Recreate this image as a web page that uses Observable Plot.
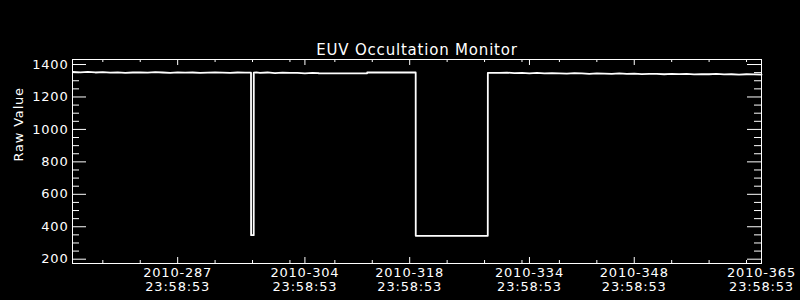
<!DOCTYPE html>
<html>
<head>
<meta charset="utf-8">
<script src="https://cdn.jsdelivr.net/npm/d3@7"></script>
<script src="https://cdn.jsdelivr.net/npm/@observablehq/plot@0.6"></script>
<style>
  html, body { margin: 0; padding: 0; background: #000; }
  #chart svg { display: block; }
</style>
</head>
<body>
<div id="chart"></div>
<script>
// ---- data (day of year 2010, raw value) ----
const days = [
  273, 274, 275, 276, 277, 278, 279, 280, 281, 282, 283, 284, 285, 286, 287, 288,
  289, 290, 291, 292, 293, 294, 295, 296, 296.8,
  296.81, 297.16, 297.17,
  297.5, 298, 299, 300, 301, 302, 303, 304, 305, 305.85,
  305.86, 312.31, 312.32, 318.8,
  318.81, 328.43, 328.44,
  329, 330, 331, 332, 333, 334, 335, 336, 337, 338, 339, 340, 341, 342, 343, 344,
  345, 346, 347, 348, 349, 350, 351, 352, 353, 354, 355, 356, 357, 358, 359, 360,
  361, 362, 363, 364, 365
];
const values = [
  1354, 1352, 1355, 1351, 1353, 1350, 1352, 1349, 1351, 1352, 1350, 1353, 1351, 1349, 1352, 1350,
  1351, 1349, 1350, 1352, 1350, 1349, 1351, 1350, 1350,
  348, 348, 1350,
  1352, 1349, 1351, 1347, 1350, 1348, 1349, 1346, 1348, 1347,
  1345, 1345, 1351, 1351,
  344, 344, 1349,
  1349, 1348, 1350, 1347, 1349, 1346, 1348, 1345, 1347, 1346, 1344, 1347, 1345, 1343, 1346, 1344,
  1342, 1345, 1343, 1344, 1341, 1343, 1342, 1340, 1343, 1341, 1342, 1339, 1341, 1340, 1342, 1339,
  1340, 1338, 1340, 1339, 1338
];

// ---- axis ticks ----
const xMajor = [287, 304, 318, 334, 348, 365];
const xMajorLabels = ["2010-287\n23:58:53", "2010-304\n23:58:53", "2010-318\n23:58:53",
                      "2010-334\n23:58:53", "2010-348\n23:58:53", "2010-365\n23:58:53"];
const xMinor = [277, 282, 292, 297, 302, 308, 313, 323, 328, 333, 338, 343, 353, 358, 363];
const yMajor = [200, 400, 600, 800, 1000, 1200, 1400];
const yMinor = [250, 300, 350, 450, 500, 550, 650, 700, 750, 850, 900, 950,
                1050, 1100, 1150, 1250, 1300, 1350];

const title = "EUV Occultation Monitor";
const yTitle = "Raw Value";

const data = days.map((d, i) => ({day: d, value: values[i]}));

const W = 800, H = 300;
const mL = 72, mR = 39, mT = 59, mB = 37;
const plotW = W - mL - mR, plotH = H - mT - mB;
const font = "DejaVu Sans";

const chart = Plot.plot({
  width: W,
  height: H,
  marginLeft: mL,
  marginRight: mR,
  marginTop: mT,
  marginBottom: mB,
  style: {background: "#000", color: "#fff", fontFamily: font, fontSize: "12px"},
  x: {domain: [272.95, 365], axis: null},
  y: {domain: [173.5, 1431], axis: null},
  marks: [
    Plot.frame({stroke: "#fff", strokeWidth: 1}),
    // bottom & top x ticks (inward)
    Plot.ruleX(xMajor, {stroke: "#fff", insetTop: plotH - 6}),
    Plot.ruleX(xMinor, {stroke: "#fff", insetTop: plotH - 3}),
    Plot.ruleX(xMajor, {stroke: "#fff", insetBottom: plotH - 6}),
    Plot.ruleX(xMinor, {stroke: "#fff", insetBottom: plotH - 3}),
    // left & right y ticks (inward)
    Plot.ruleY(yMajor, {stroke: "#fff", insetRight: plotW - 14}),
    Plot.ruleY(yMinor, {stroke: "#fff", insetRight: plotW - 7}),
    Plot.ruleY(yMajor, {stroke: "#fff", insetLeft: plotW - 14}),
    Plot.ruleY(yMinor, {stroke: "#fff", insetLeft: plotW - 7}),
    // tick labels
    Plot.text(xMajor, {
      x: d => d, frameAnchor: "bottom", text: (d, i) => xMajorLabels[i],
      lineAnchor: "top", dy: 4, fill: "#fff", fontSize: 13, lineHeight: 1.05
    }),
    Plot.text(yMajor, {
      y: d => d, frameAnchor: "left", text: d => String(d),
      textAnchor: "end", dx: -4, fill: "#fff", fontSize: 13
    }),
    // data line
    Plot.line(data, {x: "day", y: "value", stroke: "#fff", strokeWidth: 1.8}),
    // titles
    Plot.text([title], {
      frameAnchor: "top", lineAnchor: "bottom", dy: -5, fill: "#fff", fontSize: 15
    }),
    Plot.text([yTitle], {
      frameAnchor: "left", dx: -54, rotate: -90, fill: "#fff", fontSize: 13
    })
  ]
});

d3.select(chart).selectAll("text").style("letter-spacing", "0.8px");

document.getElementById("chart").appendChild(chart);
</script>
</body>
</html>
